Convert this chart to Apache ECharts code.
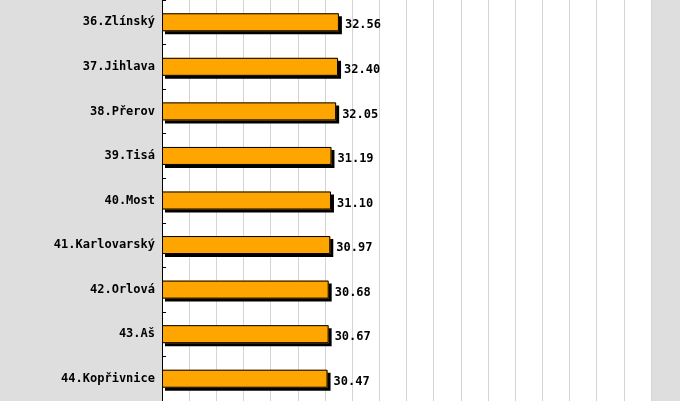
<!DOCTYPE html>
<html><head><meta charset="utf-8">
<script src="https://cdn.jsdelivr.net/npm/echarts@6/dist/echarts.min.js"></script>
<style>html,body{margin:0;padding:0;background:#dedede}#c{width:680px;height:401px}</style>
</head><body><div id="c"></div>
<script>
var categories = ['36.Zlínský','37.Jihlava','38.Přerov','39.Tisá','40.Most','41.Karlovarský','42.Orlová','43.Aš','44.Kopřivnice'];
var values = [32.56, 32.40, 32.05, 31.19, 31.10, 30.97, 30.68, 30.67, 30.47];
var valueLabels = ['32.56','32.40','32.05','31.19','31.10','30.97','30.68','30.67','30.47'];

var chart = echarts.init(document.getElementById('c'), null, {renderer:'canvas'});
var font = '"DejaVu Sans Mono", "Liberation Mono", monospace';
chart.setOption({
  backgroundColor: '#dedede',
  animation: false,
  grid: {left: 162, right: 29, top: -3, bottom: 0, show: true, backgroundColor: '#ffffff', borderWidth: 0, containLabel: false},
  xAxis: {
    type: 'value', min: 0, max: 90, interval: 5,
    axisLine: {show: false}, axisTick: {show: false}, axisLabel: {show: false},
    splitLine: {show: true, lineStyle: {color: '#d4d4d4', width: 1}}
  },
  yAxis: {
    type: 'category', data: categories, inverse: true, z: 5,
    axisLine: {show: true, lineStyle: {color: '#000', width: 1}},
    axisTick: {show: true, inside: true, length: 4, lineStyle: {color: '#000'}},
    axisLabel: {color: '#000', fontFamily: font, fontWeight: 'bold', fontSize: 12, margin: 7}
  },
  series: [{
    type: 'bar', data: values, barWidth: 18, barGap: '-100%', z: 2,
    itemStyle: {color: '#ffa500', borderWidth: 0,
      shadowColor: '#000', shadowBlur: 0, shadowOffsetX: 3, shadowOffsetY: 3}
  }, {
    type: 'bar', data: values, barWidth: 18, barGap: '-100%', z: 3,
    itemStyle: {color: 'rgba(0,0,0,0)', borderColor: '#000', borderWidth: 1},
    label: {show: true, position: 'right', distance: 6, offset: [0, 3], color: '#000',
      fontFamily: font, fontWeight: 'bold', fontSize: 12,
      formatter: function(p){ return valueLabels[p.dataIndex]; }}
  }]
});
</script></body></html>
